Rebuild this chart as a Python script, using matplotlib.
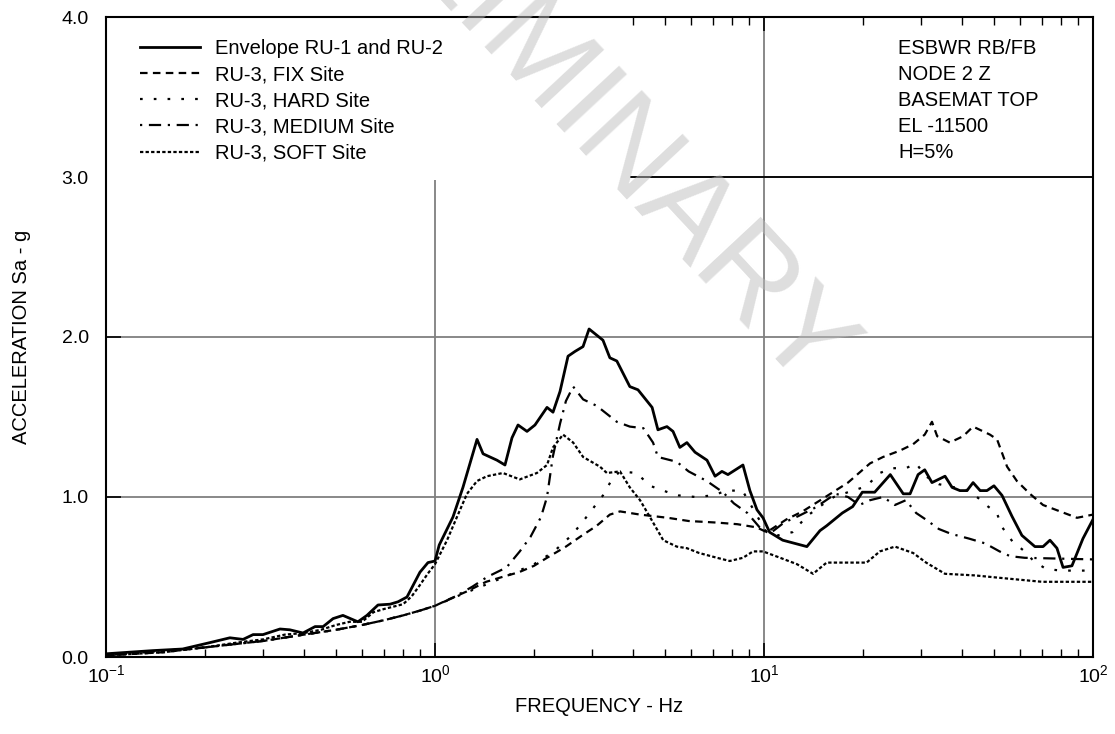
import matplotlib.pyplot as plt
from matplotlib.patches import Rectangle
from matplotlib.ticker import LogLocator, FormatStrFormatter, NullFormatter

plt.rcParams['font.family'] = ['Liberation Sans', 'DejaVu Sans']
plt.rcParams['mathtext.fontset'] = 'custom'
plt.rcParams['mathtext.rm'] = 'Liberation Sans'
plt.rcParams['mathtext.it'] = 'Liberation Sans:italic'

# Envelope RU-1 and RU-2 (solid)
env_f = [0.1, 0.139, 0.171, 0.207, 0.238, 0.261, 0.28, 0.30, 0.338, 0.362, 0.397, 0.432,
         0.457, 0.49, 0.525, 0.583, 0.621, 0.671, 0.73, 0.772, 0.822, 0.90, 0.952, 1.0,
         1.03, 1.134, 1.216, 1.342, 1.40, 1.543, 1.632, 1.714, 1.788, 1.904, 2.013, 2.19,
         2.284, 2.399, 2.537, 2.665, 2.818, 2.94, 3.24, 3.40, 3.57, 3.91, 4.14, 4.57, 4.76,
         5.07, 5.29, 5.55, 5.83, 6.17, 6.71, 7.10, 7.45, 7.77, 8.63, 9.06, 9.52, 9.93, 10.4,
         11.4, 13.5, 14.8, 15.5, 17.3, 18.6, 19.9, 20.7, 21.7, 24.2, 26.5, 27.8, 29.4, 30.8,
         32.4, 35.5, 37.3, 39.4, 41.4, 43.2, 45.4, 47.6, 50, 52.9, 56.7, 60.8, 66.6, 70.5,
         74, 77.7, 81.1, 86.3, 93.2, 100]
env_v = [0.02, 0.04, 0.05, 0.09, 0.12, 0.11, 0.14, 0.14, 0.175, 0.17, 0.15, 0.19,
         0.19, 0.24, 0.26, 0.22, 0.26, 0.325, 0.33, 0.345, 0.375, 0.53, 0.59, 0.60,
         0.70, 0.875, 1.06, 1.36, 1.27, 1.23, 1.20, 1.37, 1.45, 1.41, 1.45, 1.56,
         1.53, 1.66, 1.88, 1.91, 1.94, 2.05, 1.98, 1.87, 1.85, 1.69, 1.67, 1.56, 1.42,
         1.44, 1.41, 1.31, 1.34, 1.28, 1.23, 1.13, 1.16, 1.14, 1.20, 1.04, 0.92, 0.87, 0.78,
         0.73, 0.69, 0.79, 0.82, 0.90, 0.94, 1.03, 1.03, 1.03, 1.14, 1.02, 1.02, 1.14, 1.17,
         1.09, 1.13, 1.06, 1.04, 1.04, 1.09, 1.04, 1.04, 1.07, 1.01, 0.88, 0.76, 0.69, 0.69,
         0.73, 0.68, 0.56, 0.57, 0.74, 0.86]

# RU-3, FIX Site
fix_f = [0.1, 0.15, 0.2, 0.3, 0.4, 0.5, 0.6, 0.7, 0.8, 0.9, 1.0, 1.1, 1.25, 1.43, 1.6,
         1.8, 2.0, 2.19, 2.5, 2.8, 3.1, 3.4, 3.65, 4.2, 5.1, 5.9, 7.2, 8.3, 9.5, 10.2,
         11.7, 13.1, 15.1, 18.0, 21.0, 23.0, 25.9, 28.4, 30.8, 32.4, 33.6, 36.7, 40.3,
         43.2, 48.6, 51.1, 54.8, 58.7, 64.3, 70.5, 79.4, 89.4, 100]
fix_v = [0.01, 0.03, 0.06, 0.10, 0.14, 0.17, 0.20, 0.23, 0.26, 0.29, 0.32, 0.36, 0.41,
         0.47, 0.50, 0.53, 0.57, 0.62, 0.69, 0.76, 0.82, 0.89, 0.91, 0.89, 0.87, 0.85,
         0.84, 0.83, 0.81, 0.78, 0.86, 0.91, 0.99, 1.09, 1.21, 1.25, 1.29, 1.33, 1.39,
         1.47, 1.38, 1.34, 1.38, 1.44, 1.39, 1.36, 1.19, 1.10, 1.02, 0.95, 0.91, 0.87, 0.89]

# RU-3, HARD Site
hard_f = [0.1, 0.2, 0.3, 0.4, 0.5, 0.6, 0.7, 0.8, 0.9, 1.0, 1.2, 1.5, 1.8, 2.0, 2.3,
          2.6, 2.8, 3.0, 3.24, 3.45, 3.65, 4.1, 4.5, 5.1, 5.5, 6.2, 7.0, 7.7, 8.6, 9.3,
          10.1, 11.0, 12.2, 13.5, 15.0, 16.3, 18.0, 20.0, 21.0, 22.5, 24.5, 27.0, 29.0,
          31.0, 34.0, 38.0, 42.0, 45.0, 48.0, 51.0, 53.0, 57.0, 62.0, 66.0, 72.0, 80.0, 100]
hard_v = [0.01, 0.06, 0.10, 0.14, 0.17, 0.20, 0.23, 0.26, 0.29, 0.32, 0.39, 0.47, 0.54,
          0.58, 0.66, 0.76, 0.84, 0.92, 1.01, 1.11, 1.16, 1.15, 1.07, 1.03, 1.01, 1.00,
          1.01, 1.04, 1.04, 0.92, 0.79, 0.76, 0.78, 0.88, 0.95, 1.00, 1.03, 1.06, 1.09,
          1.15, 1.18, 1.18, 1.21, 1.13, 1.08, 1.06, 1.04, 0.99, 0.94, 0.90, 0.81, 0.72,
          0.66, 0.60, 0.55, 0.54, 0.54]

# RU-3, MEDIUM Site
med_f = [0.1, 0.2, 0.3, 0.4, 0.5, 0.6, 0.7, 0.8, 0.9, 1.0, 1.134, 1.3, 1.44, 1.65, 1.81,
         1.95, 2.1, 2.19, 2.28, 2.4, 2.5, 2.63, 2.82, 3.1, 3.57, 3.91, 4.3, 4.6, 4.76,
         5.43, 5.9, 6.7, 7.5, 8.1, 8.9, 9.7, 10.4, 11.5, 12.7, 14.2, 15.2, 16.5, 18.0,
         19.5, 21.0, 23.0, 25.0, 27.0, 29.0, 31.0, 34.0, 37.0, 42.0, 47.0, 52.0, 56.0,
         62.0, 100]
med_v = [0.01, 0.06, 0.10, 0.14, 0.17, 0.20, 0.23, 0.26, 0.29, 0.32, 0.37, 0.44, 0.50,
         0.56, 0.66, 0.75, 0.875, 1.00, 1.25, 1.46, 1.60, 1.69, 1.61, 1.57, 1.47, 1.44,
         1.43, 1.34, 1.25, 1.22, 1.16, 1.10, 1.03, 0.96, 0.90, 0.81, 0.77, 0.84, 0.88,
         0.93, 0.97, 1.02, 1.00, 0.95, 0.98, 1.00, 0.95, 0.98, 0.90, 0.86, 0.80, 0.77,
         0.74, 0.71, 0.66, 0.63, 0.62, 0.61]

# RU-3, SOFT Site
soft_f = [0.1, 0.15, 0.2, 0.25, 0.3, 0.35, 0.4, 0.45, 0.5, 0.55, 0.6, 0.65, 0.7, 0.8,
          0.85, 0.9, 0.95, 1.0, 1.088, 1.166, 1.251, 1.342, 1.439, 1.609, 1.81, 2.04,
          2.19, 2.284, 2.45, 2.63, 2.82, 3.17, 3.33, 3.65, 3.91, 4.2, 4.5, 4.94, 5.43,
          5.83, 6.35, 7.2, 7.87, 8.63, 9.26, 9.93, 11.2, 12.6, 14.1, 15.5, 17.4, 20.5,
          22.5, 25.0, 28.4, 31.1, 35.5, 43.7, 55.1, 70.0, 100]
soft_v = [0.01, 0.03, 0.06, 0.09, 0.11, 0.14, 0.15, 0.17, 0.20, 0.22, 0.22, 0.28, 0.30,
          0.33, 0.38, 0.45, 0.52, 0.58, 0.73, 0.875, 1.02, 1.10, 1.13, 1.15, 1.11, 1.15,
          1.20, 1.31, 1.39, 1.34, 1.25, 1.19, 1.15, 1.16, 1.06, 0.98, 0.875, 0.73, 0.69,
          0.68, 0.65, 0.62, 0.60, 0.62, 0.66, 0.66, 0.62, 0.58, 0.52, 0.59, 0.59, 0.59,
          0.66, 0.69, 0.65, 0.59, 0.52, 0.51, 0.49, 0.47, 0.47]

info_lines = ['ESBWR RB/FB', 'NODE 2 Z', 'BASEMAT TOP', 'EL -11500', 'H=5%']

fig = plt.figure(figsize=(11.15, 7.34), dpi=100)
ax = fig.add_axes([106 / 1115, 1 - 657 / 734, 987 / 1115, 640 / 734])
ax.set_xscale('log')
ax.set_xlim(0.1, 100)
ax.set_ylim(0, 4)
ax.set_axisbelow(True)

ax.xaxis.set_major_locator(LogLocator(base=10, numticks=5))
ax.xaxis.set_minor_locator(LogLocator(base=10, subs=range(2, 10), numticks=20))
ax.xaxis.set_minor_formatter(NullFormatter())
ax.set_yticks([0, 1, 2, 3, 4])
ax.yaxis.set_major_formatter(FormatStrFormatter('%.1f'))
ax.tick_params(axis='x', which='both', direction='in', top=True, labelsize=14, pad=5)
ax.tick_params(axis='x', which='major', length=10, width=1.2)
ax.tick_params(axis='x', which='minor', length=6, width=1)
ax.tick_params(axis='y', direction='in', length=11, width=1.2, labelsize=14, pad=12.5)
for s in ax.spines.values():
    s.set_linewidth(1.5)

ax.grid(True, which='major', color='#7f7f7f', linewidth=1.3)

# blank area behind the legend
ax.add_patch(Rectangle((0, 0.745), 0.532, 0.26, transform=ax.transAxes,
                       facecolor='white', edgecolor='none', zorder=1))
ax.axhline(3.0, xmin=0.532, xmax=1, color='black', linewidth=1.3, zorder=1.2)

lw = 1.6
ax.plot(env_f, env_v, color='black', linewidth=2.0, linestyle='-', label='Envelope RU-1 and RU-2', zorder=3)
ax.plot(fix_f, fix_v, color='black', linewidth=lw, linestyle=(0, (3.4, 2.4)), label='RU-3, FIX Site', zorder=3)
ax.plot(hard_f, hard_v, color='black', linewidth=lw, linestyle=(0, (1.2, 5)), label='RU-3, HARD Site', zorder=3)
ax.plot(med_f, med_v, color='black', linewidth=lw, linestyle=(0, (1, 3, 5.5, 3)), label='RU-3, MEDIUM Site', zorder=3)
ax.plot(soft_f, soft_v, color='black', linewidth=lw, linestyle=(0, (1.5, 1)), label='RU-3, SOFT Site', zorder=3)

leg = ax.legend(loc='upper left', bbox_to_anchor=(0.034, 0.966), frameon=False,
                fontsize=14.5, handlelength=3.0, handletextpad=0.75,
                labelspacing=0.36, borderpad=0, borderaxespad=0)
leg.set_zorder(5)

for i, line in enumerate(info_lines):
    fig.text(898 / 1115, 1 - (54 + 26 * i) / 734, line, fontsize=14.5, va='baseline', ha='left')

ax.set_xlabel('FREQUENCY - Hz', fontsize=14.5, labelpad=8)
ax.set_ylabel('ACCELERATION Sa - g', fontsize=14.5, labelpad=22)

# faint diagonal watermark, partly running off the top edge
fig.text(540 / 1115, 1 - 70 / 734, 'PRELIMINARY', fontsize=90, color='#bdbdbd', alpha=0.5,
         rotation=-47, ha='center', va='center', rotation_mode='anchor', zorder=10)

fig.savefig('out.png', dpi=100)
